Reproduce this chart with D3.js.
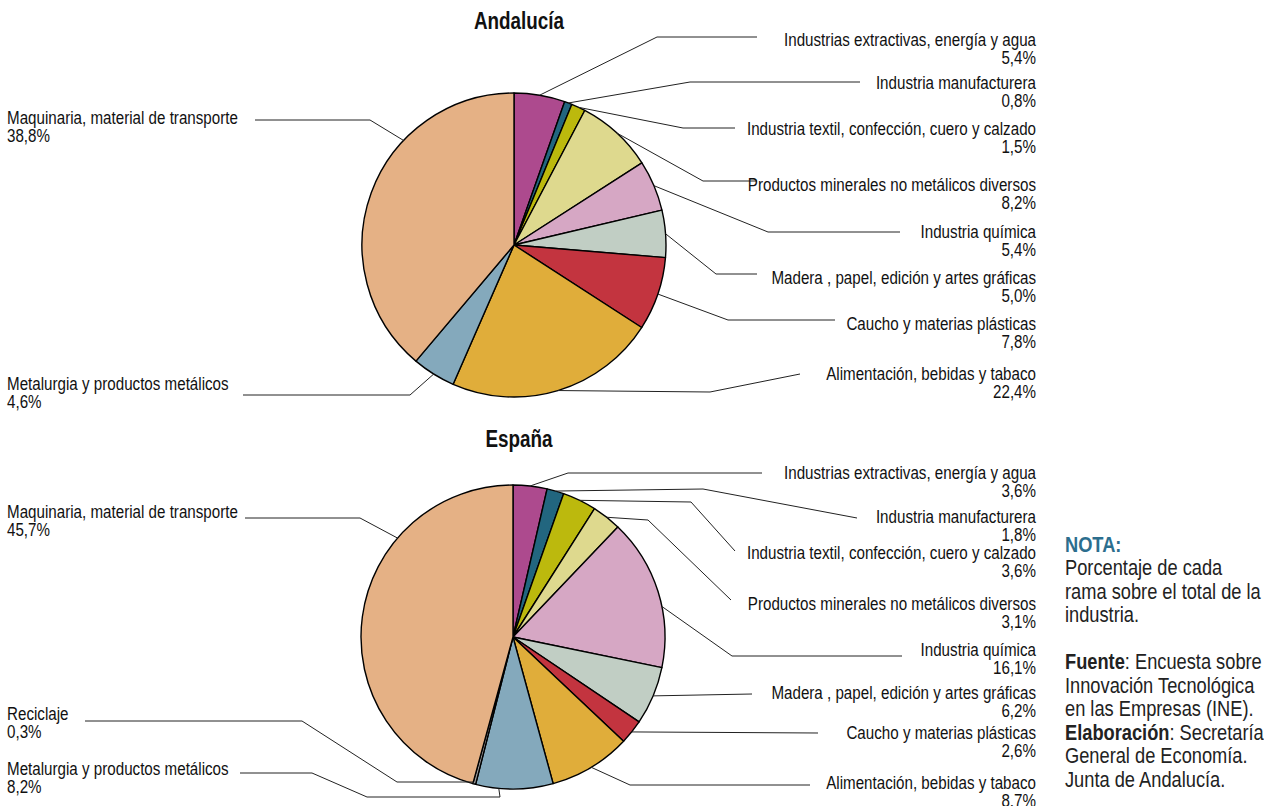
<!DOCTYPE html>
<html>
<head>
<meta charset="utf-8">
<script src="https://cdn.jsdelivr.net/npm/d3@7"></script>
<style>
  body { margin: 0; background: #fff; }
  svg { display: block; }
  .lbl { font-family: "Liberation Sans", Arial, sans-serif; font-size: 18.5px; fill: #111; }
  .ttl { font-family: "Liberation Sans", Arial, sans-serif; font-size: 23px; font-weight: bold; fill: #111; }
  .note { font-family: "Liberation Sans", Arial, sans-serif; font-size: 22px; fill: #222; }
</style>
</head>
<body>
<div id="chart"></div>
<script>
// categories, in the order the slices run clockwise from 12 o'clock
var categories = [
    "Industrias extractivas, energía y agua",
    "Industria manufacturera",
    "Industria textil, confección, cuero y calzado",
    "Productos minerales no metálicos diversos",
    "Industria química",
    "Madera , papel, edición y artes gráficas",
    "Caucho y materias plásticas",
    "Alimentación, bebidas y tabaco",
    "Metalurgia y productos metálicos",
    "Reciclaje",
    "Maquinaria, material de transporte"
];
// % of each branch over total industry (Andalucía has no Reciclaje slice)
var andaluciaValues = [5.4, 0.8, 1.5, 8.2, 5.4, 5.0, 7.8, 22.4, 4.6, 0, 38.8];
var espanaValues = [3.6, 1.8, 3.6, 3.1, 16.1, 6.2, 2.6, 8.7, 8.2, 0.3, 45.7];
var sliceColors = ["#ad4a8e", "#22667f", "#bcb90d", "#ded98e", "#d6a7c4", "#c1cec4",
                   "#c3343f", "#e0ad3a", "#84a9bc", "#9a9a9a", "#e5b185"];

// label placement for each pie: name centre y, side, leader elbows (from pie outwards), attach fraction
var andaluciaLayout = {
    title: "Andalucía", titleY: 21, cx: 514, cy: 245,
    labels: [
        { y: 40, side: "r", pts: [[657, 37], [757, 37]] },
        { y: 83, side: "r", pts: [[690, 82], [860, 82]] },
        { y: 129, side: "r", pts: [[683, 128], [735, 128]] },
        { y: 185, side: "r", pts: [[703, 181], [757, 181]] },
        { y: 232, side: "r", pts: [[768, 232], [900, 232]] },
        { y: 278, side: "r", pts: [[716, 274], [757, 274]] },
        { y: 324, side: "r", pts: [[728, 320], [835, 320]] },
        { y: 374, side: "r", pts: [[710, 392], [800, 374]] },
        { y: 384, side: "l", pts: [[410, 395], [243, 395]] },
        null,
        { y: 118, side: "l", frac: 0.667, pts: [[370, 120], [255, 120]] }
    ]
};
var espanaLayout = {
    title: "España", titleY: 439, cx: 513, cy: 637,
    labels: [
        { y: 473, side: "r", pts: [[568, 473], [762, 473]] },
        { y: 517, side: "r", pts: [[703, 489], [857, 518]] },
        { y: 553, side: "r", pts: [[691, 502], [735, 551]] },
        { y: 604, side: "r", pts: [[648, 520], [731, 600]] },
        { y: 650, side: "r", frac: 0.6, pts: [[732, 656], [902, 656]] },
        { y: 693, side: "r", pts: [[752, 694]] },
        { y: 733, side: "r", pts: [[818, 733]] },
        { y: 783, side: "r", pts: [[630, 785], [810, 785]] },
        { y: 769, side: "l", frac: 0.7, pts: [[500, 797], [367, 797], [312, 773], [240, 773]] },
        { y: 714, side: "l", pts: [[473, 782], [397, 782], [302, 721], [85, 721]] },
        { y: 512, side: "l", frac: 0.7, pts: [[360, 518], [245, 518]] }
    ]
};

var noteLines = [
    [["NOTA:", "head"]],
    [["Porcentaje de cada", ""]],
    [["rama sobre el total de la", ""]],
    [["industria.", ""]],
    [],
    [["Fuente", "b"], [": Encuesta sobre", ""]],
    [["Innovación Tecnológica", ""]],
    [["en las Empresas (INE).", ""]],
    [["Elaboración", "b"], [": Secretaría", ""]],
    [["General de Economía.", ""]],
    [["Junta de Andalucía.", ""]]
];

var w = 1264, h = 806;
var radius = 152;
var narrow = 0.82;   // condensed look (Arial Narrow in the original)
var fmt = function(v) { return d3.format(".1f")(v).replace(".", ",") + "%"; };

var svg = d3.select("#chart").append("svg")
    .attr("width", w)
    .attr("height", h);

var pie = d3.pie().sort(null).value(function(d) { return d.value; });
var arc = d3.arc().innerRadius(0).outerRadius(radius);

function drawPie(values, layout) {
    var data = categories.map(function(c, i) {
        return { name: c, value: values[i], color: sliceColors[i], lay: layout.labels[i] };
    }).filter(function(d) { return d.value > 0; });

    var g = svg.append("g")
        .attr("transform", "translate(" + layout.cx + "," + layout.cy + ")");

    var arcs = pie(data);

    g.selectAll("path")
        .data(arcs)
        .enter()
        .append("path")
        .attr("d", arc)
        .attr("fill", function(d) { return d.data.color; })
        .attr("stroke", "#000")
        .attr("stroke-width", 1.4)
        .attr("stroke-linejoin", "round");

    // leader lines: from slice edge through elbows to the label
    var line = d3.line();
    svg.selectAll(null)
        .data(arcs)
        .enter()
        .append("path")
        .attr("d", function(d) {
            var f = d.data.lay.frac == null ? 0.5 : d.data.lay.frac;
            var a = d.startAngle + (d.endAngle - d.startAngle) * f;
            var p = [layout.cx + radius * Math.sin(a), layout.cy - radius * Math.cos(a)];
            return line([p].concat(d.data.lay.pts));
        })
        .attr("fill", "none")
        .attr("stroke", "#222")
        .attr("stroke-width", 1);

    var lbl = svg.selectAll(null)
        .data(arcs)
        .enter()
        .append("text")
        .attr("class", "lbl")
        .attr("text-anchor", function(d) { return d.data.lay.side === "r" ? "end" : "start"; })
        .attr("transform", function(d) {
            var x = d.data.lay.side === "r" ? 1036 : 7;
            return "translate(" + x + "," + d.data.lay.y + ") scale(" + narrow + ",1)";
        });

    lbl.append("tspan")
        .attr("x", 0)
        .attr("y", 0)
        .attr("dy", "0.35em")
        .text(function(d) { return d.data.name; });
    lbl.append("tspan")
        .attr("x", 0)
        .attr("y", 18)
        .attr("dy", "0.35em")
        .text(function(d) { return fmt(d.data.value); });

    svg.append("text")
        .attr("class", "ttl")
        .attr("transform", "translate(519," + layout.titleY + ") scale(" + narrow + ",1)")
        .attr("dy", "0.35em")
        .attr("text-anchor", "middle")
        .text(layout.title);
}

drawPie(andaluciaValues, andaluciaLayout);
drawPie(espanaValues, espanaLayout);

// note block on the right
var note = svg.append("g").attr("transform", "translate(1065,0)");
noteLines.forEach(function(parts, i) {
    var t = note.append("text")
        .attr("class", "note")
        .attr("transform", "translate(0," + (544 + i * 23.5) + ") scale(0.83,1)")
        .attr("dy", "0.35em");
    parts.forEach(function(p) {
        var s = t.append("tspan").text(p[0]);
        if (p[1] === "head") s.style("font-weight", "bold").style("fill", "#2c6e8e");
        if (p[1] === "b") s.style("font-weight", "bold");
    });
});
</script>
</body>
</html>
